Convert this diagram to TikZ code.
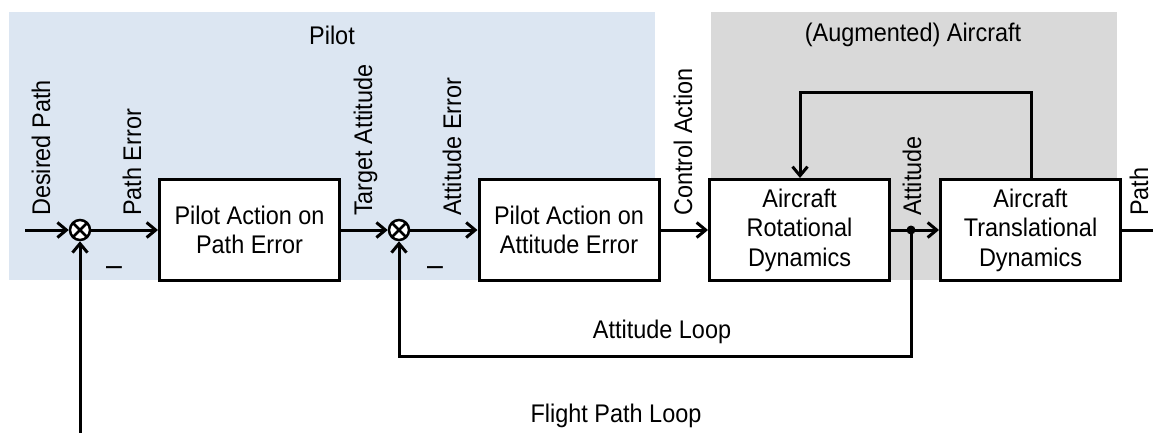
\documentclass[tikz,border=0pt]{standalone}
\usepackage{fontspec}
\setmainfont{Liberation Sans}[FakeStretch=0.92]
\usetikzlibrary{arrows.meta}
\definecolor{pilotbg}{HTML}{DCE6F2}
\definecolor{craftbg}{HTML}{D9D9D9}
\begin{document}
\begin{tikzpicture}[x=1pt,y=-1pt,
  every node/.style={font=\fontsize{25.5}{29.5}\selectfont, inner sep=0pt},
  block/.style={draw, line width=3pt, minimum width=180pt, minimum height=101pt,
    align=center, fill=white},
  sumnode/.style={circle, draw, line width=2.5pt, minimum size=20pt, fill=white,
    path picture={\draw[line width=2.5pt]
      (path picture bounding box.north west) -- (path picture bounding box.south east)
      (path picture bounding box.north east) -- (path picture bounding box.south west);}},
  sig/.style={line width=3pt},
  arr/.style={sig, -{Straight Barb[length=9pt,width=15pt,line width=3pt]}},
  vlabel/.style={rotate=90, anchor=base west}]

\useasboundingbox (0,0) rectangle (1153,432);

% shaded areas
\fill[pilotbg] (9,12) rectangle (655,280);
\fill[craftbg] (711,12) rectangle (1117,280);
\node (tPilot) at (332,35) {Pilot};
\node (tCraft) at (913,35) {(Augmented) Aircraft};

% summing junctions and blocks
\node[sumnode] (s1) at (80,230) {};
\node[sumnode] (s2) at (399,230) {};
\node[block] (b1) at (249.5,230) {Pilot Action on\\Path Error};
\node[block] (b2) at (569,230) {Pilot Action on\\Attitude Error};
\node[block] (b3) at (799.5,230) {Aircraft\\Rotational\\Dynamics};
\node[block] (b4) at (1030.5,230) {Aircraft\\Translational\\Dynamics};

% helper points
\coordinate (in) at (25,230);
\coordinate (out) at (1165,230);
\coordinate (tap) at (911,230);
\coordinate (attlow) at (911,356);
\coordinate (fplow) at (80,445);
\coordinate (fbR) at (1031,92);
\coordinate (fbL) at (800,92);

% forward path
\draw[arr] (in) -- (s1);
\draw[arr] (s1) -- (b1);
\draw[arr] (b1) -- (s2);
\draw[arr] (s2) -- (b2);
\draw[arr] (b2) -- (b3);
\draw[arr] (b3) -- (b4);
\draw[sig] (b4) -- (out);
\fill (tap) circle (4.5pt);

% feedback paths
\draw[arr] (tap) -- (attlow) -| (s2);
\draw[arr] (fplow) -- (s1);
\draw[arr] (b4.north -| fbR) -- (fbR) -- (fbL) -- (b3.north -| fbL);

% signal labels
\node[vlabel] (lDes) at (50,216) {Desired Path};
\node[vlabel] (lPE) at (141,216) {Path Error};
\node[vlabel] (lTA) at (372,216) {Target Attitude};
\node[vlabel] (lAE) at (461,216) {Attitude Error};
\node[vlabel] (lCA) at (692,216) {Control Action};
\node[vlabel] (lAtt) at (921,216) {Attitude};
\node[vlabel] (lPath) at (1148,216) {Path};

% signs
\node[font=\fontsize{31}{31}\selectfont] (m1) at (114,271) {–};
\node[font=\fontsize{31}{31}\selectfont] (m2) at (435,271) {–};

% loop names
\node (lAL) at (662,332) {Attitude Loop};
\node (lFPL) at (616,416) {Flight Path Loop};
\end{tikzpicture}
\end{document}
